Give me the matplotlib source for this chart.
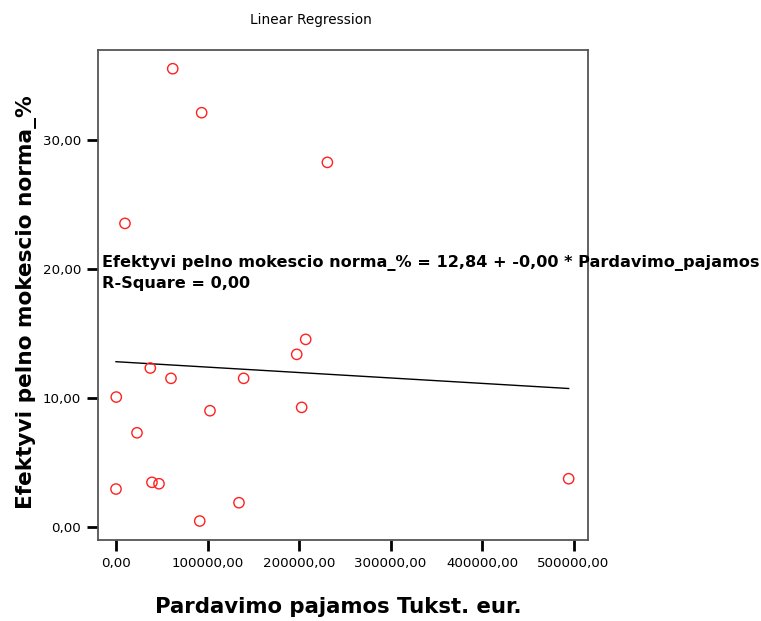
import matplotlib.pyplot as plt
import numpy as np

# data (Pardavimo pajamos vs efektyvi pelno mokescio norma)
pajamos = [62000, 93600, 231000, 9800, 207300, 197500, 37500, 60100, 139500,
           300, 102700, 202900, 22950, 39300, 47000, 0, 134400, 91500, 494700]
norma = [35.55, 32.14, 28.29, 23.56, 14.57, 13.41, 12.35, 11.55, 11.55,
         10.10, 9.04, 9.30, 7.33, 3.49, 3.38, 2.97, 1.91, 0.49, 3.77]

intercept = 12.84
slope = -4.2e-6

x_ticks = [0, 100000, 200000, 300000, 400000, 500000]
y_ticks = [0, 10, 20, 30]

fig = plt.figure(figsize=(7.61, 6.21), dpi=100)
ax = fig.add_axes([97.7 / 761, 1 - 540 / 621, 490 / 761, 490 / 621])

ax.scatter(pajamos, norma, s=55, facecolors='none', edgecolors='#ff2020', linewidths=1.0, zorder=3)

xs = np.array([min(pajamos), max(pajamos)])
ax.plot(xs, intercept + slope * xs, color='black', linewidth=1.0)

ax.set_xlim(-20000, 515500)
ax.set_ylim(-0.98, 37.0)
ax.set_xticks(x_ticks)
ax.set_yticks(y_ticks)
ax.set_xticklabels([f"{v:.2f}".replace('.', ',') for v in x_ticks], fontsize=9.6)
ax.set_yticklabels([f"{v:.2f}".replace('.', ',') for v in y_ticks], fontsize=9.6)
ax.tick_params(direction='out', length=8, width=2, color='black', pad=4)

for s in ax.spines.values():
    s.set_color('#555555')
    s.set_linewidth(1.3)

ax.set_xlabel("Pardavimo pajamos Tukst. eur.", fontsize=15.3, fontweight='bold')
ax.set_ylabel("Efektyvi pelno mokescio norma_%", fontsize=15.6, fontweight='bold')
ax.xaxis.set_label_coords(0.491, -0.116)
ax.yaxis.set_label_coords(-0.124, 0.486)
fig.text(311 / 761, 1 - 20 / 621, "Linear Regression", fontsize=9.8, ha='center', va='center')

ax.text(0.008, 0.545, "Efektyvi pelno mokescio norma_% = 12,84 + -0,00 * Pardavimo_pajamos\nR-Square = 0,00",
        transform=ax.transAxes, fontsize=11.6, fontweight='bold', ha='left', va='center',
        linespacing=1.35, clip_on=False)

fig.savefig("out.png", dpi=100)
